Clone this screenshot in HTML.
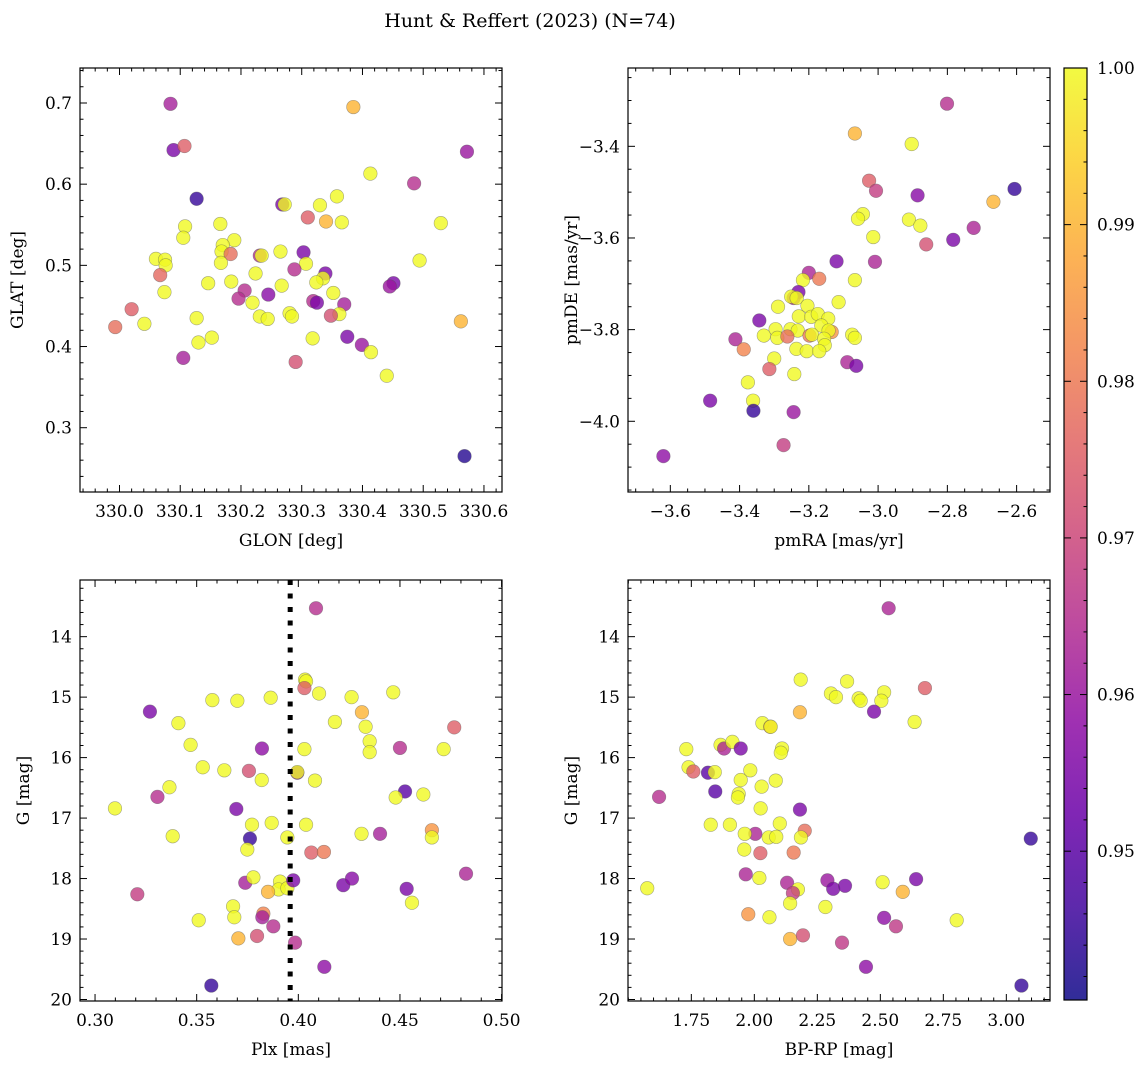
<!DOCTYPE html>
<html><head><meta charset="utf-8"><style>
html,body{margin:0;padding:0;background:#fff;}
svg{display:block;font-family:"DejaVu Serif","Liberation Serif",serif;}
</style></head><body>
<svg id="fig" width="1148" height="1068" viewBox="0 0 1148 1068" xmlns="http://www.w3.org/2000/svg">
<text x="530" y="27" text-anchor="middle" font-size="19">Hunt &amp; Reffert (2023) (N=74)</text>
</svg>
<script>
// Panel 1: GLON vs GLAT
const p1Glon=[330.084,330.089,330.107,330.127,330.385,330.572,330.413,330.485,330.268,330.272,330.330,330.358,330.310,330.340,330.366,330.529,330.166,330.108,330.105,330.189,330.170,330.168,330.183,330.167,330.231,330.234,330.265,330.303,330.307,330.494,330.060,330.075,330.076,330.067,330.074,330.288,330.339,330.335,330.324,330.224,330.146,330.184,330.267,330.352,330.451,330.445,330.206,330.196,330.245,330.219,330.319,330.325,330.370,330.362,330.348,330.280,330.284,330.231,330.244,330.020,329.993,330.041,330.127,330.130,330.152,330.105,330.318,330.375,330.399,330.414,330.440,330.290,330.562,330.568];
const p1Glat=[0.699,0.642,0.647,0.582,0.695,0.640,0.613,0.601,0.575,0.575,0.574,0.585,0.559,0.554,0.553,0.552,0.551,0.548,0.534,0.531,0.525,0.517,0.514,0.503,0.512,0.512,0.517,0.516,0.502,0.506,0.508,0.507,0.500,0.488,0.467,0.495,0.490,0.484,0.479,0.490,0.478,0.480,0.475,0.466,0.478,0.474,0.469,0.459,0.464,0.454,0.456,0.454,0.452,0.440,0.438,0.441,0.437,0.437,0.434,0.446,0.424,0.428,0.435,0.405,0.411,0.386,0.410,0.412,0.402,0.393,0.364,0.381,0.431,0.265];
const p1Prob=[0.962,0.955,0.975,0.945,0.99,0.96,1,0.965,0.955,1,1,1,0.975,0.99,1,1,1,1,1,1,1,1,0.978,1,0.965,1,1,0.955,1,1,1,1,1,0.977,1,0.965,0.955,1,1,1,1,1,1,1,0.955,0.96,0.965,0.965,0.957,1,0.965,0.955,0.962,1,0.972,1,1,1,1,0.975,0.978,1,1,1,1,0.962,1,0.955,0.96,1,1,0.972,0.99,0.943];
// Panel 2: pmRA vs pmDE
const p2PmRA=[-2.801,-3.067,-2.903,-3.026,-3.006,-2.886,-2.606,-2.667,-3.044,-3.058,-2.911,-2.878,-3.014,-2.724,-2.783,-2.861,-3.120,-3.009,-3.067,-3.200,-3.217,-3.170,-3.230,-3.244,-3.251,-3.235,-3.289,-3.204,-3.114,-3.343,-3.229,-3.193,-3.174,-3.144,-3.164,-3.134,-3.143,-3.296,-3.253,-3.232,-3.330,-3.291,-3.262,-3.198,-3.191,-3.156,-3.154,-3.236,-3.206,-3.170,-3.075,-3.067,-3.412,-3.388,-3.300,-3.314,-3.089,-3.063,-3.242,-3.376,-3.361,-3.360,-3.485,-3.244,-3.273,-3.620];
const p2PmDE=[-3.307,-3.372,-3.395,-3.475,-3.497,-3.507,-3.493,-3.521,-3.548,-3.558,-3.560,-3.573,-3.598,-3.578,-3.604,-3.614,-3.651,-3.652,-3.692,-3.676,-3.692,-3.689,-3.718,-3.731,-3.728,-3.731,-3.750,-3.748,-3.740,-3.780,-3.771,-3.772,-3.766,-3.776,-3.791,-3.805,-3.802,-3.799,-3.799,-3.802,-3.813,-3.818,-3.815,-3.813,-3.811,-3.820,-3.834,-3.842,-3.847,-3.847,-3.811,-3.818,-3.821,-3.843,-3.863,-3.886,-3.871,-3.879,-3.897,-3.915,-3.955,-3.977,-3.955,-3.980,-4.052,-4.076];
const p2Prob=[0.965,0.99,1,0.975,0.968,0.957,0.945,0.99,1,1,1,1,1,0.963,0.955,0.972,0.955,0.963,1,0.963,1,0.98,0.955,0.963,1,1,1,1,1,0.955,1,1,1,1,1,0.985,1,1,1,1,1,1,0.978,0.98,1,1,1,1,1,1,1,1,0.963,0.982,1,0.975,0.963,0.955,1,1,1,0.945,0.955,0.96,0.968,0.958];
// Panel 3: Plx vs G
const p3Plx=[0.4087,0.4033,0.4038,0.4030,0.4102,0.4262,0.4467,0.3864,0.3700,0.3577,0.3270,0.3410,0.4313,0.4180,0.4331,0.4767,0.4351,0.4351,0.4500,0.4715,0.3470,0.3821,0.4030,0.3530,0.3636,0.3757,0.3820,0.3995,0.3995,0.4082,0.3366,0.3307,0.3098,0.4525,0.4479,0.4615,0.3695,0.3772,0.3869,0.4038,0.3762,0.3749,0.3946,0.3382,0.4311,0.4402,0.4657,0.4657,0.4064,0.4126,0.4825,0.3208,0.3739,0.3779,0.3910,0.3903,0.3946,0.3975,0.3851,0.4221,0.4264,0.4533,0.4559,0.3679,0.3685,0.3510,0.3828,0.3823,0.3877,0.3705,0.3797,0.3984,0.4128,0.3572];
const p3G=[13.53,14.71,14.74,14.85,14.94,15.00,14.92,15.01,15.06,15.05,15.24,15.43,15.25,15.41,15.49,15.50,15.73,15.91,15.84,15.86,15.79,15.85,15.86,16.16,16.21,16.22,16.37,16.25,16.24,16.38,16.49,16.65,16.84,16.56,16.66,16.61,16.85,17.11,17.08,17.11,17.34,17.52,17.32,17.30,17.26,17.26,17.20,17.32,17.57,17.56,17.92,18.26,18.07,17.98,18.05,18.18,18.16,18.03,18.22,18.11,18.00,18.17,18.40,18.46,18.64,18.69,18.58,18.64,18.79,18.99,18.95,19.06,19.46,19.77];
const p3Prob=[0.965,1,1,0.975,1,1,1,1,1,1,0.955,1,0.99,1,1,0.975,1,1,0.965,1,1,0.958,1,1,1,0.972,1,0.955,1,1,1,0.965,1,0.95,1,1,0.955,1,1,1,0.945,1,1,1,1,0.962,0.985,1,0.975,0.98,0.963,0.968,0.962,1,1,1,1,0.955,0.99,0.955,0.957,0.955,1,1,1,1,0.982,0.962,0.965,0.99,0.972,0.965,0.958,0.945];
// Panel 4: BP-RP vs G
const p4Color=[2.533,2.184,2.368,2.677,2.304,2.324,2.414,2.422,2.515,2.504,2.475,2.181,2.636,2.032,2.063,2.065,1.730,1.866,1.880,1.913,1.946,2.110,2.105,1.739,1.758,1.816,1.843,1.984,1.946,2.029,2.085,1.845,1.622,1.938,1.935,2.025,2.181,1.827,1.903,2.101,2.004,1.962,2.057,2.087,2.200,2.185,1.960,2.024,2.156,3.097,1.966,2.020,2.130,2.173,2.153,2.142,2.290,2.313,2.360,2.509,2.642,2.589,1.575,2.282,1.976,2.060,2.515,2.562,2.803,2.142,2.193,2.348,2.443,3.060];
const p4G=[13.53,14.71,14.74,14.85,14.94,15.00,15.02,15.06,14.92,15.06,15.24,15.25,15.41,15.43,15.49,15.49,15.86,15.79,15.85,15.74,15.85,15.85,15.92,16.16,16.23,16.25,16.24,16.21,16.37,16.48,16.38,16.56,16.65,16.60,16.66,16.84,16.86,17.11,17.11,17.09,17.26,17.26,17.32,17.31,17.21,17.32,17.52,17.58,17.57,17.34,17.93,17.99,18.07,18.18,18.24,18.41,18.03,18.17,18.12,18.06,18.01,18.22,18.16,18.47,18.59,18.64,18.65,18.79,18.69,19.00,18.94,19.06,19.46,19.77];
const p4Prob=[0.963,1,1,0.975,1,1,1,1,1,1,0.955,0.99,1,1,0.985,1,1,1,0.963,1,0.955,1,1,1,0.975,0.95,1,1,1,1,1,0.95,0.965,1,1,1,0.955,1,1,1,0.963,1,1,1,0.978,1,1,0.975,0.98,0.945,0.963,1,0.963,1,0.968,1,0.96,0.955,0.955,1,0.955,0.99,1,1,0.985,1,0.958,0.967,1,0.99,0.972,0.967,0.958,0.945];
// Tick label arrays
const p1XTicks=[330.0,330.1,330.2,330.3,330.4,330.5,330.6];
const p1YTicks=[0.3,0.4,0.5,0.6,0.7];
const p2XTicks=[-3.6,-3.4,-3.2,-3.0,-2.8,-2.6];
const p2YTicks=[-4.0,-3.8,-3.6,-3.4];
const p3XTicks=[0.30,0.35,0.40,0.45,0.50];
const gTicks=[14,15,16,17,18,19,20];
const p4XTicks=[1.75,2.00,2.25,2.50,2.75,3.00];
const cbTicks=[0.95,0.96,0.97,0.98,0.99,1.00];
const plxLine=[0.396];

const NS='http://www.w3.org/2000/svg';
const svg=document.getElementById('fig');
const CMIN=0.9405,CMAX=1.0;
const plasma=[[13,8,135],[65,4,157],[106,0,168],[143,13,164],[177,42,144],[204,71,120],[225,100,98],[242,132,75],[252,166,54],[252,206,37],[240,249,33]];
function cmap(v){let t=(v-CMIN)/(CMAX-CMIN);t=Math.max(0,Math.min(1,t));const s=t*10,i=Math.min(9,Math.floor(s)),f=s-i;const a=plasma[i],b=plasma[i+1];return 'rgb('+[0,1,2].map(k=>Math.round(a[k]+(b[k]-a[k])*f)).join(',')+')';}
function mk(tag,attrs,parent){const e=document.createElementNS(NS,tag);for(const k in attrs)e.setAttribute(k,attrs[k]);(parent||svg).appendChild(e);return e;}
function fmt(v,d){return (v<0?'\u2212':'')+Math.abs(v).toFixed(d);}

function panel(o){
  const g=mk('g',{});
  
  
  const sx=v=>o.x0+(v-o.xmin)/(o.xmax-o.xmin)*(o.x1-o.x0);
  const sy=o.invert?(v=>o.y0+(v-o.ymin)/(o.ymax-o.ymin)*(o.y1-o.y0)):(v=>o.y1-(v-o.ymin)/(o.ymax-o.ymin)*(o.y1-o.y0));
  const clipId='clip-'+o.name;
  const cp=mk('clipPath',{id:clipId},g);mk('rect',{x:o.x0,y:o.y0,width:o.x1-o.x0,height:o.y1-o.y0},cp);
  const pts=mk('g',{'clip-path':'url(#'+clipId+')'},g);
  
  
  for(let i=0;i<o.xs.length;i++){
    const c=mk('circle',{cx:sx(o.xs[i]),cy:sy(o.ys[i]),r:6.8,fill:cmap(o.ps[i]),'fill-opacity':0.8,stroke:'#555','stroke-opacity':0.5,'stroke-width':0.6},pts);
    
    
  }
  if(o.vline){for(const v of o.vline){const l=mk('line',{x1:sx(v),x2:sx(v),y1:o.y0,y2:o.y1,stroke:'#000','stroke-width':5,'stroke-dasharray':'5,8.5'},g);}}
  // ticks
  const tk=mk('g',{stroke:'#000','stroke-width':1},g);
  
  
  const n1=Math.ceil(o.xmin/o.xminor-1e-9),n2=Math.floor(o.xmax/o.xminor+1e-9);
  for(let n=n1;n<=n2;n++){const v=n*o.xminor,x=sx(v);const maj=o.xt.some(t=>Math.abs(t-v)<o.xminor/10);const L=maj?7:3.5;mk('line',{x1:x,x2:x,y1:o.y1,y2:o.y1-L},tk);mk('line',{x1:x,x2:x,y1:o.y0,y2:o.y0+L},tk);}
  const m1=Math.ceil(o.ymin/o.yminor-1e-9),m2=Math.floor(o.ymax/o.yminor+1e-9);
  for(let n=m1;n<=m2;n++){const v=n*o.yminor,y=sy(v);const maj=o.yt.some(t=>Math.abs(t-v)<o.yminor/10);const L=maj?7:3.5;mk('line',{x1:o.x0,x2:o.x0+L,y1:y,y2:y},tk);mk('line',{x1:o.x1,x2:o.x1-L,y1:y,y2:y},tk);}
  mk('rect',{x:o.x0,y:o.y0,width:o.x1-o.x0,height:o.y1-o.y0,fill:'none',stroke:'#000','stroke-width':1.2},g);
  for(const t of o.xt){const e=mk('text',{x:sx(t),y:o.y1+25,'text-anchor':'middle','font-size':17},g);e.textContent=fmt(t,o.xd);}
  for(const t of o.yt){const e=mk('text',{x:o.x0-8,y:sy(t)+6,'text-anchor':'end','font-size':17},g);e.textContent=fmt(t,o.yd);}
  const xl=mk('text',{x:(o.x0+o.x1)/2,y:o.y1+54,'text-anchor':'middle','font-size':17},g);xl.textContent=o.xlabel;
  const yc=(o.y0+o.y1)/2;const yl=mk('text',{x:o.ylx,y:yc,'text-anchor':'middle','font-size':17,transform:'rotate(-90 '+o.ylx+' '+yc+')'},g);yl.textContent=o.ylabel;
}

panel({name:'glon-glat-panel',x0:80,x1:502,y0:68,y1:492,xmin:329.935,xmax:330.6297,ymin:0.2208,ymax:0.7431,xs:p1Glon,ys:p1Glat,ps:p1Prob,xt:p1XTicks,yt:p1YTicks,xminor:0.02,yminor:0.02,xd:1,yd:1,xlabel:'GLON [deg]',ylabel:'GLAT [deg]',ylx:23});
panel({name:'proper-motion-panel',x0:628,x1:1050,y0:68,y1:492,xmin:-3.7222,xmax:-2.5036,ymin:-4.1543,ymax:-3.2291,xs:p2PmRA,ys:p2PmDE,ps:p2Prob,xt:p2XTicks,yt:p2YTicks,xminor:0.05,yminor:0.05,xd:1,yd:1,xlabel:'pmRA [mas/yr]',ylabel:'pmDE [mas/yr]',ylx:577});
panel({name:'parallax-magnitude-panel',x0:80,x1:502,y0:580,y1:1001,xmin:0.2926,xmax:0.5002,ymin:13.063,ymax:20.025,invert:true,xs:p3Plx,ys:p3G,ps:p3Prob,xt:p3XTicks,yt:gTicks,xminor:0.01,yminor:0.2,xd:2,yd:0,xlabel:'Plx [mas]',ylabel:'G [mag]',ylx:29,vline:plxLine});
panel({name:'color-magnitude-panel',x0:628,x1:1050,y0:580,y1:1001,xmin:1.4987,xmax:3.1733,ymin:13.063,ymax:20.025,invert:true,xs:p4Color,ys:p4G,ps:p4Prob,xt:p4XTicks,yt:gTicks,xminor:0.05,yminor:0.2,xd:2,yd:0,xlabel:'BP-RP [mag]',ylabel:'G [mag]',ylx:577});

// Colorbar
(function(){
  const x0=1064,x1=1087,y0=68,y1=1000;
  const cb=mk('g',{});
  
  
  const defs=mk('defs',{},cb);
  const lg=mk('linearGradient',{id:'plasmaGrad',x1:0,y1:1,x2:0,y2:0},defs);
  plasma.forEach((c,i)=>mk('stop',{offset:(i/10),'stop-color':'rgb('+c.join(',')+')'},lg));
  mk('rect',{x:x0,y:y0,width:x1-x0,height:y1-y0,fill:'url(#plasmaGrad)','fill-opacity':0.85},cb);
  const sy=v=>y1-(v-CMIN)/(CMAX-CMIN)*(y1-y0);
  for(let n=Math.ceil(CMIN/0.002);n<=500;n++){const v=n*0.002;const y=sy(v);const maj=cbTicks.some(t=>Math.abs(t-v)<1e-6);mk('line',{x1:x1,x2:x1-(maj?7:3.5),y1:y,y2:y,stroke:'#000','stroke-width':1},cb);if(maj)mk('line',{x1:x0,x2:x0+7,y1:y,y2:y,stroke:'#000','stroke-width':1},cb);}
  mk('rect',{x:x0,y:y0,width:x1-x0,height:y1-y0,fill:'none',stroke:'#000','stroke-width':1.2},cb);
  for(const t of cbTicks){const e=mk('text',{x:x1+10,y:sy(t)+6,'font-size':17},cb);e.textContent=t.toFixed(2);}
})();
</script>
</body></html>
